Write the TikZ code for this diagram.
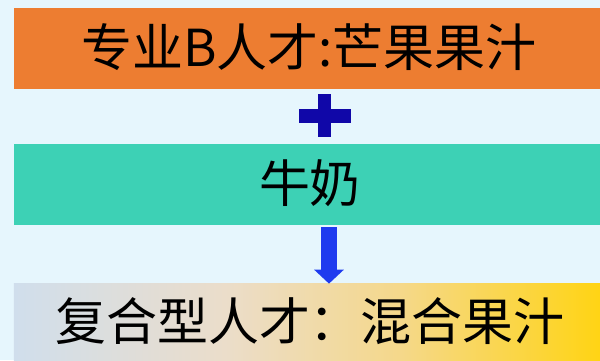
\documentclass[tikz,border=0pt]{standalone}
\usepackage{fontspec}
\newfontfamily\cjk{Noto Sans CJK SC}
\usetikzlibrary{arrows.meta, calc}
\definecolor{bgblue}{HTML}{E6F6FD}
\definecolor{barorange}{HTML}{ED7D31}
\definecolor{barteal}{HTML}{3DD1B5}
\definecolor{plusblue}{HTML}{1007A8}
\definecolor{arrowblue}{HTML}{1F3BEF}
\definecolor{mixleft}{HTML}{D0DEEC}
\definecolor{mixbeige}{HTML}{EBDDCA}
\definecolor{mixsand}{HTML}{F5D88A}
\definecolor{mixright}{HTML}{FFD414}
\pgfdeclarehorizontalshading{mixshade}{100bp}{
    color(0bp)=(mixleft); color(25bp)=(mixleft); color(43bp)=(mixbeige);
    color(58bp)=(mixsand); color(75bp)=(mixright); color(100bp)=(mixright)
}
\tikzset{
    my-bar/.style={
        shape=rectangle, inner sep=0pt, minimum width=586*0.02cm, minimum height=81*0.02cm
    },
    my-label/.style={
        inner sep=0pt, font=\cjk\fontsize{29pt}{35pt}\selectfont
    },
    my-arrow/.style={
        arrowblue, line width=16*0.02cm, -{Triangle[width=29*0.02cm, length=14*0.02cm]}
    },
}
\begin{document}
\begin{tikzpicture}[x=0.02cm, y=-0.02cm]

        % BACKGROUND ----------------------------------------------------------------------------------
        \fill[bgblue] (0, 0) rectangle (600, 360);
        \useasboundingbox (0, 0) rectangle (600, 360);

        % BARS
        \node[my-bar, fill=barorange] (MANGO) at (307, 48.5)                 {};
        \node[my-bar, fill=barteal]   (MILK)  at ($(MANGO) + (0, 136)$)      {};
        \node[my-bar, minimum height=77*0.02cm, shading=mixshade]
                                      (MIX)   at ($(MILK) + (0, 137)$)       {};

        % LABELS
        \node[my-label] (MANGOTXT) at ($(MANGO) + (2, -1)$) {专业B人才:芒果果汁};
        \node[my-label] (MILKTXT)  at ($(MILK)  + (3, -1)$) {牛奶};
        \node[my-label] (MIXTXT)   at ($(MIX)   + (3, 0)$)  {复合型人才：混合果汁};

        % PLUS SIGN
        \coordinate (PLUS) at (325, 115.5);
        \fill[plusblue] ($(PLUS) + (-26, -7)$) rectangle ($(PLUS) + (26, 7)$);
        \fill[plusblue] ($(PLUS) + (-6.5, -21.5)$) rectangle ($(PLUS) + (6.5, 21.5)$);

        % ARROW MILK -> MIX
        \coordinate (ARROWIN)  at ($(MILK.south) + (22, 2)$);
        \coordinate (ARROWOUT) at ($(MIX.north)  + (22, 1)$);
        \draw[my-arrow] (ARROWIN) -- (ARROWOUT);

    \end{tikzpicture}
\end{document}
